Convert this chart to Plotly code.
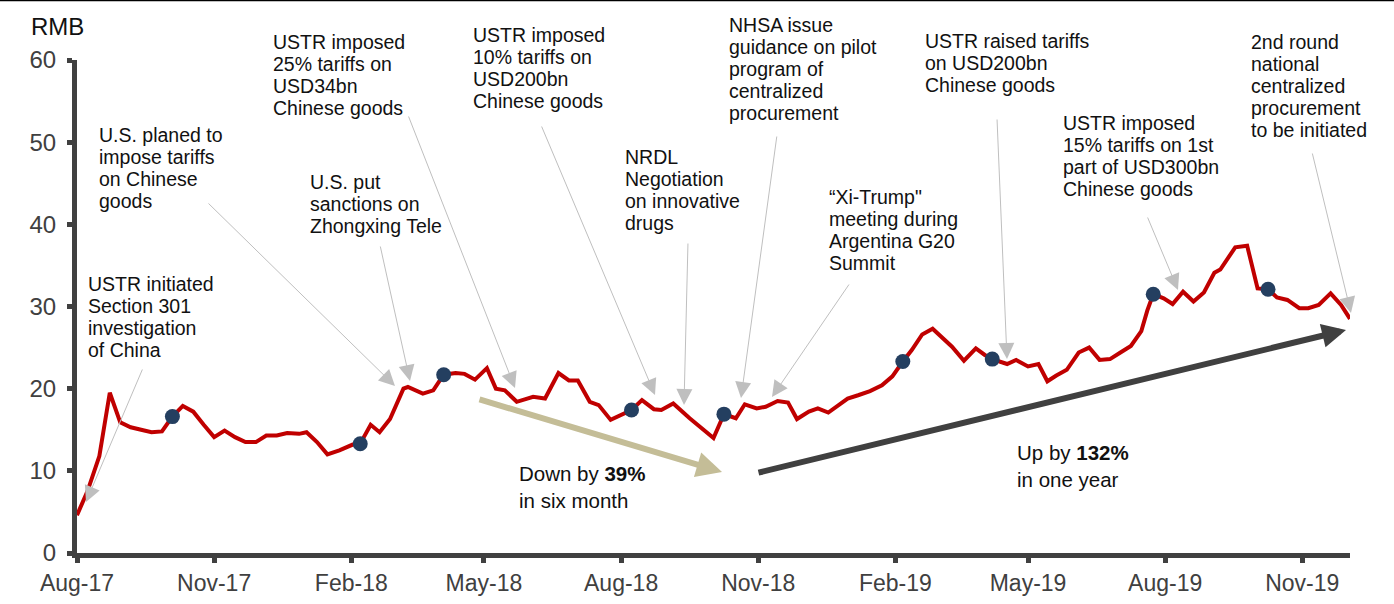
import plotly.graph_objects as go

# ---------------- data ----------------
dates = [
    "2017-08-01", "2017-08-08", "2017-08-16", "2017-08-23", "2017-08-30", "2017-09-06",
    "2017-09-13", "2017-09-20", "2017-09-27", "2017-10-04", "2017-10-11", "2017-10-18",
    "2017-10-25", "2017-11-01", "2017-11-08", "2017-11-15", "2017-11-22", "2017-11-29",
    "2017-12-06", "2017-12-13", "2017-12-20", "2017-12-28", "2018-01-02", "2018-01-09",
    "2018-01-16", "2018-01-24", "2018-02-02", "2018-02-07", "2018-02-14", "2018-02-20",
    "2018-02-27", "2018-03-08", "2018-03-11", "2018-03-21", "2018-03-28", "2018-04-04",
    "2018-04-12", "2018-04-18", "2018-04-25", "2018-05-03", "2018-05-09", "2018-05-15",
    "2018-05-23", "2018-06-03", "2018-06-11", "2018-06-20", "2018-06-27", "2018-07-03",
    "2018-07-11", "2018-07-17", "2018-07-25", "2018-08-01", "2018-08-08", "2018-08-15",
    "2018-08-23", "2018-08-28", "2018-09-05", "2018-09-16", "2018-09-25", "2018-10-02",
    "2018-10-09", "2018-10-17", "2018-10-23", "2018-10-31", "2018-11-06", "2018-11-14",
    "2018-11-21", "2018-11-27", "2018-12-05", "2018-12-11", "2018-12-18", "2018-12-26",
    "2018-12-31", "2019-01-07", "2019-01-15", "2019-01-23", "2019-01-30", "2019-02-06",
    "2019-02-12", "2019-02-19", "2019-02-26", "2019-03-11", "2019-03-19", "2019-03-27",
    "2019-04-02", "2019-04-07", "2019-04-17", "2019-04-23", "2019-05-01", "2019-05-08",
    "2019-05-14", "2019-05-20", "2019-05-27", "2019-06-04", "2019-06-11", "2019-06-18",
    "2019-06-25", "2019-07-02", "2019-07-09", "2019-07-16", "2019-07-20", "2019-07-24",
    "2019-07-31", "2019-08-06", "2019-08-13", "2019-08-20", "2019-08-27", "2019-09-03",
    "2019-09-07", "2019-09-17", "2019-09-25", "2019-10-02", "2019-10-09", "2019-10-15",
    "2019-10-22", "2019-10-30", "2019-11-05", "2019-11-12", "2019-11-20", "2019-11-27",
    "2019-12-03",
]
price = [
    4.6, 7.5, 11.8, 19.5, 15.9, 15.3,
    15.0, 14.7, 14.8, 16.6, 17.9, 17.2,
    15.6, 14.1, 14.9, 14.1, 13.5, 13.5,
    14.3, 14.3, 14.6, 14.5, 14.7, 13.5,
    12.0, 12.5, 13.2, 13.3, 15.6, 14.7,
    16.3, 20.0, 20.2, 19.4, 19.8, 21.7,
    21.9, 21.8, 21.1, 22.5, 20.0, 19.8,
    18.4, 19.0, 18.8, 21.9, 21.0, 21.0,
    18.4, 18.0, 16.2, 16.8, 17.4, 18.6,
    17.5, 17.4, 18.2, 16.4, 15.0, 14.0,
    16.9, 16.4, 18.1, 17.6, 17.8, 18.5,
    18.3, 16.3, 17.2, 17.6, 17.1, 18.2,
    18.8, 19.2, 19.7, 20.4, 21.5, 23.3,
    24.7, 26.6, 27.3, 25.1, 23.4, 24.9,
    24.1, 23.6, 23.0, 23.5, 22.7, 23.0,
    20.9, 21.6, 22.3, 24.4, 25.0, 23.5,
    23.6, 24.4, 25.2, 27.0, 29.5, 31.5,
    31.0, 30.3, 31.8, 30.6, 31.7, 34.1,
    34.5, 37.2, 37.4, 32.2, 32.1, 31.1,
    30.8, 29.8, 29.8, 30.2, 31.6, 30.2,
    28.5,
]
dot_dates = ["2017-10-04", "2018-02-07", "2018-04-04", "2018-08-08", "2018-10-09",
             "2019-02-06", "2019-04-07", "2019-07-24", "2019-10-09"]
dot_values = [16.6, 13.3, 21.7, 17.4, 16.9, 23.3, 23.6, 31.5, 32.1]

y_ticks = [0, 10, 20, 30, 40, 50, 60]

events = [
    ["USTR initiated", "Section 301", "investigation", "of China"],
    ["U.S. planed to", "impose tariffs", "on Chinese", "goods"],
    ["U.S. put", "sanctions on", "Zhongxing Tele"],
    ["USTR imposed", "25% tariffs on", "USD34bn", "Chinese goods"],
    ["USTR imposed", "10% tariffs on", "USD200bn", "Chinese goods"],
    ["NRDL", "Negotiation", "on innovative", "drugs"],
    ["NHSA issue", "guidance on pilot", "program of", "centralized", "procurement"],
    ["\u201cXi-Trump\"", "meeting during", "Argentina G20", "Summit"],
    ["USTR raised tariffs", "on USD200bn", "Chinese goods"],
    ["USTR imposed", "15% tariffs on 1st", "part of USD300bn", "Chinese goods"],
    ["2nd round", "national", "centralized", "procurement", "to be initiated"],
]

# ---------------- layout geometry (pixels) ----------------
W, H = 1394, 604
L, R, T, B = 77, 1350, 60, 553

def px(x):
    return (x - L) / (R - L)

def py(y):
    return (B - y) / (B - T)

# text block: left x, first-line centre y
event_pos = [(86, 284), (97, 135), (308, 182), (271, 42), (471, 35), (623, 157),
             (727, 25), (827, 197), (923, 41), (1061, 123), (1249, 42)]
# arrow: tail (x,y) -> tip (x,y)
event_arrows = [((143, 368), (86, 502)), ((207, 202), (395, 386)), ((380, 245), (410, 381)),
                ((408, 115), (515, 388)), ((541, 125), (655, 395)), ((688, 242), (684, 405)),
                ((777, 135), (741, 398)), ((850, 283), (772, 397)), ((997, 118), (1007, 359)),
                ((1147, 216), (1178, 290)), ((1312, 152), (1351, 313))]
LINE_H = 22

fig = go.Figure()
fig.add_trace(go.Scatter(x=dates, y=price, mode="lines",
                         line=dict(color="#C00000", width=4),
                         cliponaxis=False, hoverinfo="skip"))
fig.add_trace(go.Scatter(x=dot_dates, y=dot_values, mode="markers",
                         marker=dict(color="#243F60", size=15),
                         cliponaxis=False, hoverinfo="skip"))

annotations = []
FONT = "Liberation Sans, Arial, sans-serif"
for lines, (x0, y0) in zip(events, event_pos):
    for i, t in enumerate(lines):
        annotations.append(dict(
            xref="paper", yref="paper", x=px(x0), y=py(y0 + i * LINE_H),
            xanchor="left", yanchor="middle", text=t, showarrow=False,
            font=dict(family=FONT, size=19.5, color="#111111")))
for (tail, tip) in event_arrows:
    annotations.append(dict(
        xref="paper", yref="paper", x=px(tip[0]), y=py(tip[1]),
        ax=tail[0] - tip[0], ay=tail[1] - tip[1], axref="pixel", ayref="pixel",
        text="", showarrow=True, arrowhead=2, arrowsize=3.2, arrowwidth=1,
        arrowcolor="#BFBFBF"))

# trend arrows
annotations.append(dict(xref="paper", yref="paper", x=px(722), y=py(472),
                        ax=478 - 722, ay=399 - 472, axref="pixel", ayref="pixel",
                        text="", showarrow=True, arrowhead=2, arrowsize=0.85,
                        arrowwidth=6, arrowcolor="#C4BD97"))
annotations.append(dict(xref="paper", yref="paper", x=px(1346), y=py(330),
                        ax=757 - 1346, ay=473 - 330, axref="pixel", ayref="pixel",
                        text="", showarrow=True, arrowhead=2, arrowsize=0.8,
                        arrowwidth=6, arrowcolor="#404040"))
annotations.append(dict(xref="paper", yref="paper", x=px(517), y=py(487),
                        xanchor="left", yanchor="middle", align="left",
                        text="Down by <b>39%</b><br>in six month", showarrow=False,
                        font=dict(family=FONT, size=20.5, color="#111111")))
annotations.append(dict(xref="paper", yref="paper", x=px(1015), y=py(466),
                        xanchor="left", yanchor="middle", align="left",
                        text="Up by <b>132%</b><br>in one year", showarrow=False,
                        font=dict(family=FONT, size=20.5, color="#111111")))
annotations.append(dict(xref="paper", yref="paper", x=px(29), y=py(27),
                        xanchor="left", yanchor="middle", text="RMB", showarrow=False,
                        font=dict(family=FONT, size=24, color="#111111")))

fig.update_layout(
    width=W, height=H,
    margin=dict(l=L, r=W - R, t=T, b=H - B),
    paper_bgcolor="white", plot_bgcolor="white",
    showlegend=False,
    annotations=annotations,
    shapes=[dict(type="line", xref="paper", yref="paper",
                 x0=px(0), x1=px(W), y0=py(0.5), y1=py(0.5),
                 line=dict(color="black", width=1.5))],
    font=dict(family=FONT),
)
fig.update_xaxes(
    type="date", range=["2017-08-01", "2019-12-03"],
    tick0="2017-08-01", dtick="M3", tickformat="%b-%y",
    showline=True, linewidth=5, linecolor="#404040",
    ticks="outside", ticklen=5, tickwidth=5, tickcolor="#404040",
    ticklabelstandoff=0, automargin=False,
    showgrid=False, zeroline=False,
    tickfont=dict(family=FONT, size=23, color="#404040"),
)
fig.update_yaxes(
    range=[0, 60], tickvals=y_ticks,
    showline=True, linewidth=5, linecolor="#404040",
    ticks="outside", ticklen=5, tickwidth=5, tickcolor="#404040",
    ticklabelstandoff=6, automargin=False,
    showgrid=False, zeroline=False,
    tickfont=dict(family=FONT, size=24, color="#404040"),
)

fig.write_html("out.html")
